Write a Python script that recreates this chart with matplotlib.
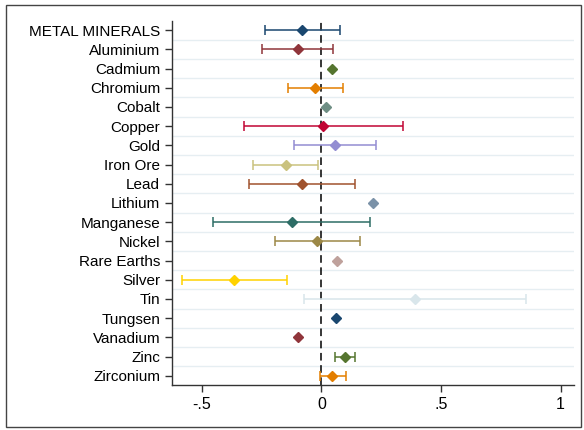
import numpy as np
import matplotlib
matplotlib.use('Agg')
import matplotlib.pyplot as plt
from matplotlib.patches import Rectangle

plt.rcParams['font.family'] = ['Liberation Sans', 'DejaVu Sans']

labels = ['METAL MINERALS', 'Aluminium', 'Cadmium', 'Chromium', 'Cobalt', 'Copper',
          'Gold', 'Iron Ore', 'Lead', 'Lithium', 'Manganese', 'Nickel', 'Rare Earths',
          'Silver', 'Tin', 'Tungsen', 'Vanadium', 'Zinc', 'Zirconium']
est = [-0.080, -0.100, 0.042, -0.026, 0.021, 0.008, 0.057, -0.150, -0.083, 0.215,
       -0.124, -0.017, 0.065, -0.365, 0.392, 0.062, -0.097, 0.097, 0.046]
lo = [-0.237, -0.247, None, -0.140, None, -0.325, -0.114, -0.285, -0.304, None,
      -0.453, -0.193, None, -0.585, -0.072, None, None, 0.057, -0.007]
hi = [0.078, 0.049, None, 0.090, None, 0.342, 0.228, -0.015, 0.139, None,
      0.204, 0.161, None, -0.144, 0.854, None, None, 0.140, 0.101]
colors = ['#1a476f', '#90353b', '#55752f', '#e37e00', '#6e8e84', '#c10534', '#938dd2',
          '#cac27e', '#a0522d', '#7b92a8', '#2d6d66', '#9c8847', '#bfa19c', '#ffd200',
          '#d9e6eb', '#1a476f', '#90353b', '#55752f', '#e37e00']
xticks = [-0.5, 0, 0.5, 1]
xticklabels = ['-.5', '0', '.5', '1']

fig = plt.figure(figsize=(5.84, 4.30), dpi=100)
ax = fig.add_axes([0.2945, 0.105, 0.688, 0.846])

# light separators between rows
for i in range(len(labels) - 1):
    ax.axhline(i + 0.5, color='#e6eef2', lw=1, zorder=0)

ax.axvline(0, color='black', ls=(0, (5, 3)), lw=1.1, zorder=1)

for i, (e, l, h, c) in enumerate(zip(est, lo, hi, colors)):
    if l is not None:
        ax.errorbar(e, i, xerr=[[e - l], [h - e]], fmt='none', ecolor=c,
                    elinewidth=1.1, capsize=3.5, capthick=1.1, zorder=2)
    ax.plot(e, i, marker='D', color=c, markersize=5.5, zorder=3)

ax.set_ylim(len(labels) - 0.53, -0.47)
ax.set_xlim(-0.625, 1.055)
ax.set_yticks(range(len(labels)))
ax.set_yticklabels(labels, fontsize=11)
ax.set_xticks(xticks)
ax.set_xticklabels(xticklabels, fontsize=11.5)
ax.tick_params(axis='both', length=5, width=1, color='#333333')
ax.tick_params(axis='x', pad=4)

for s in ['top', 'right']:
    ax.spines[s].set_visible(False)
for s in ['left', 'bottom']:
    ax.spines[s].set_color('#333333')
    ax.spines[s].set_linewidth(1)

fig.patches.append(Rectangle((0.011, 0.006), 0.984, 0.982, transform=fig.transFigure,
                             fill=False, edgecolor='#444444', lw=1))

fig.savefig('out.png', dpi=100)
